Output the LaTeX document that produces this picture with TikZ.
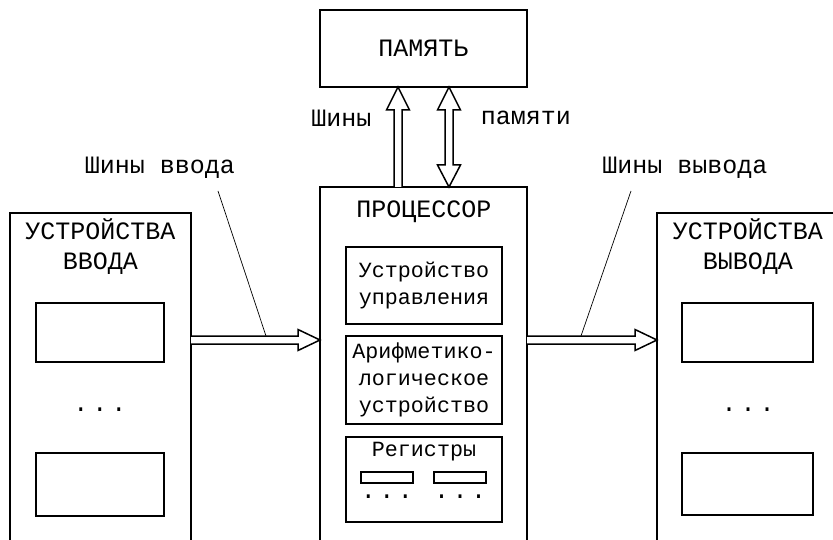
\documentclass[tikz,border=0pt]{standalone}
\usepackage{fontspec}
\setmainfont{Liberation Mono}
\usetikzlibrary{calc}
\begin{document}
\begin{tikzpicture}[x=1pt,y=-1pt,
  box/.style={draw, line width=1.8pt, inner sep=0pt, outer sep=0pt, anchor=north west},
  inbox/.style={draw, line width=1.6pt, inner sep=0pt, outer sep=0pt, anchor=north west},
  big/.style={font=\fontsize{25}{30}\selectfont, inner sep=0pt, align=center},
  small/.style={font=\fontsize{21.7}{26.5}\selectfont, inner sep=0pt, align=center},
  dots/.style={font=\fontsize{25}{25}\selectfont, inner sep=0pt},
  bus/.style={draw, line width=1.5pt, fill=white, line join=miter},
  leader/.style={draw, line width=0.7pt}]
\path[use as bounding box, clip] (0,0) rectangle (833,540);
\fill[white] (0,0) rectangle (833,540);

% main boxes
\node[box, minimum width=207pt, minimum height=77pt] (mem) at (320,10) {};
\node[big] at (mem.center) {ПАМЯТЬ};
\node[box, minimum width=207pt, minimum height=380pt] (proc) at (320,187) {};
\node[box, minimum width=181pt, minimum height=360pt] (inb) at (10,213) {};
\node[box, minimum width=200pt, minimum height=360pt] (outb) at (657,213) {};

% titles
\node[big] (proct) at (424,212) {ПРОЦЕССОР};
\node[big] (int) at (100.5,247) {УСТРОЙСТВА\\ВВОДА};
\node[big] (outt) at (748,247) {УСТРОЙСТВА\\ВЫВОДА};

% processor inner blocks
\node[inbox, minimum width=156pt, minimum height=77pt] (cu) at (346,247) {};
\node[small] at (cu.center) {Устройство\\управления};
\node[inbox, minimum width=156pt, minimum height=88pt] (alu) at (346,336) {};
\node[small, font=\fontsize{21.7}{27}\selectfont] at (alu.center) {Арифметико-\\логическое\\устройство};
\node[inbox, minimum width=156pt, minimum height=85pt] (reg) at (346,437) {};
\node[small] (regt) at (424,452) {Регистры};
\node[inbox, line width=1.3pt, minimum width=52pt, minimum height=11pt] (r1) at (361,472) {};
\node[inbox, line width=1.3pt, minimum width=52pt, minimum height=11pt] (r2) at (434,472) {};
\node[dots] (rd1) at (387,497) {.\hspace{3.5pt}.\hspace{3.5pt}.};
\node[dots] (rd2) at (460,497) {.\hspace{3.5pt}.\hspace{3.5pt}.};

% device inner blocks
\node[inbox, minimum width=128pt, minimum height=59pt] (i1) at (36,303) {};
\node[dots] (id) at (100,410) {.\hspace{4pt}.\hspace{4pt}.};
\node[inbox, minimum width=128pt, minimum height=63pt] (i2) at (36,453) {};
\node[inbox, minimum width=131pt, minimum height=59pt] (o1) at (682,303) {};
\node[dots] (od) at (748,410) {.\hspace{4pt}.\hspace{4pt}.};
\node[inbox, minimum width=131pt, minimum height=62pt] (o2) at (682,453) {};

% bus rows
\coordinate (busrow) at (0,340);
\coordinate (upcol) at (398,0);
\coordinate (bicol) at (449,0);

% input bus
\coordinate (is) at (inb.east |- busrow);
\coordinate (ie) at (proc.west |- busrow);
\draw[bus] ($(is)+(0,-4)$) -- ($(ie)+(-22,-4)$) -- ($(ie)+(-22,-10.5)$) -- (ie)
  -- ($(ie)+(-22,10.5)$) -- ($(ie)+(-22,4)$) -- ($(is)+(0,4)$);
% output bus
\coordinate (os) at (proc.east |- busrow);
\coordinate (oe) at (outb.west |- busrow);
\draw[bus] ($(os)+(0,-4)$) -- ($(oe)+(-22,-4)$) -- ($(oe)+(-22,-10.5)$) -- (oe)
  -- ($(oe)+(-22,10.5)$) -- ($(oe)+(-22,4)$) -- ($(os)+(0,4)$);
% memory bus, up
\coordinate (us) at (proc.north -| upcol);
\coordinate (ue) at (mem.south -| upcol);
\draw[bus] ($(us)+(-4,0)$) -- ($(ue)+(-4,23)$) -- ($(ue)+(-11.5,23)$) -- (ue)
  -- ($(ue)+(11.5,23)$) -- ($(ue)+(4,23)$) -- ($(us)+(4,0)$);
% memory bus, both ways
\coordinate (b1) at (mem.south -| bicol);
\coordinate (b2) at (proc.north -| bicol);
\draw[bus] (b1) -- ($(b1)+(11.5,23)$) -- ($(b1)+(4,23)$) -- ($(b2)+(4,-22)$)
  -- ($(b2)+(11.5,-22)$) -- (b2) -- ($(b2)+(-11.5,-22)$) -- ($(b2)+(-4,-22)$)
  -- ($(b1)+(-4,23)$) -- ($(b1)+(-11.5,23)$) -- cycle;

% labels
\node[big] (lsh) at (341.5,118) {Шины};
\node[big] (lpam) at (526,118) {памяти};
\node[big] (lin) at (160,168) {Шины ввода};
\node[big] (lout) at (685,168) {Шины вывода};
\coordinate (lint) at (266,336);
\coordinate (loutt) at (581,336);
\draw[leader] ($(lin.south)+(58,12)$) -- (lint);
\draw[leader] ($(lout.south)+(-54,12)$) -- (loutt);
\end{tikzpicture}
\end{document}
